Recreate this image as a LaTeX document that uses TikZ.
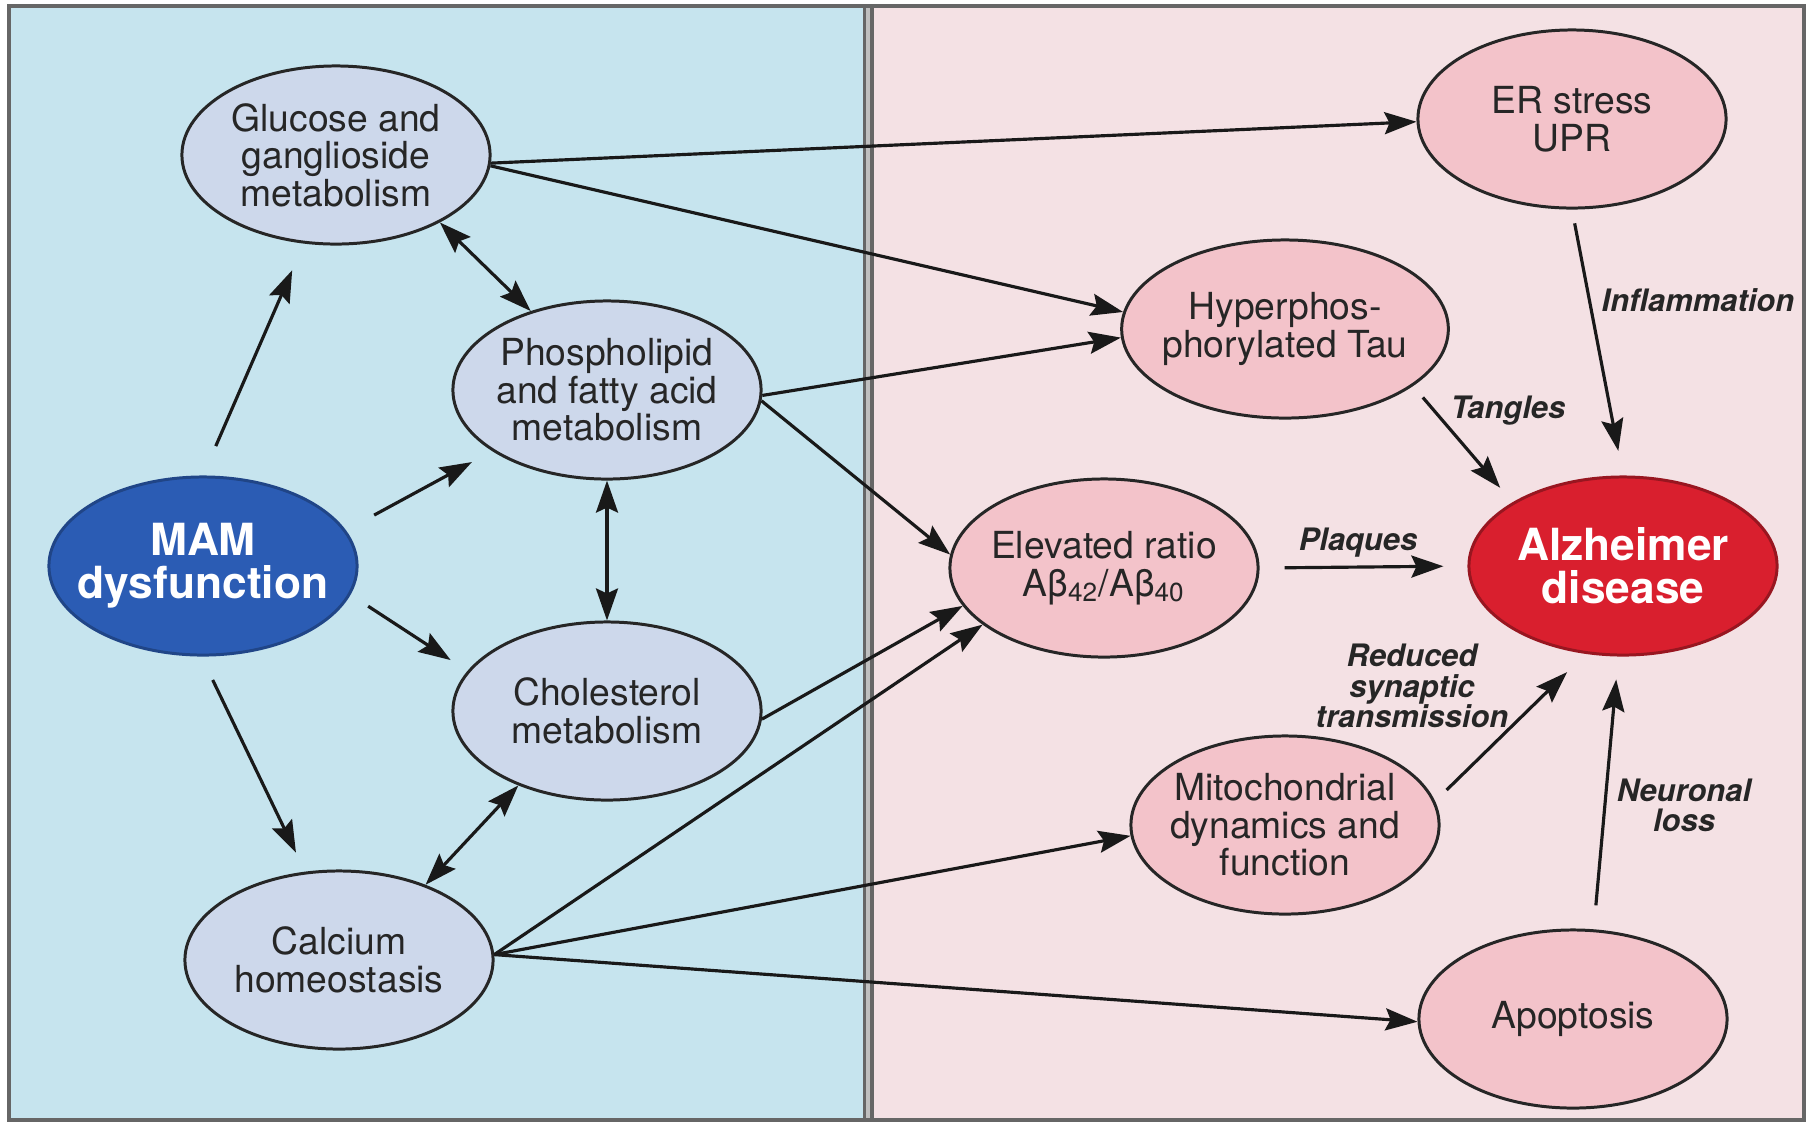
\documentclass[tikz,border=0pt]{standalone}
\usepackage{fontspec}
\setmainfont{TeX Gyre Heros}
\usepackage{tikz}
\usetikzlibrary{arrows.meta,shapes.geometric}
\definecolor{bluebg}{HTML}{C6E4EE}
\definecolor{pinkbg}{HTML}{F4E1E4}
\definecolor{bluenode}{HTML}{CDD8EB}
\definecolor{pinknode}{HTML}{F3C3CA}
\definecolor{mamblue}{HTML}{2B5CB4}
\definecolor{alzred}{HTML}{D91F2E}

\begin{document}
\begin{tikzpicture}[x=0.01cm, y=-0.01cm,
nd/.style = {ellipse, draw=black!85, line width=0.85pt, minimum width=3.08cm, minimum height=1.78cm, inner sep=-2pt, align=center, text=black!85, font=\fontsize{10.6}{10.7}\selectfont},
met/.style = {nd, fill=bluenode},
pth/.style = {nd, fill=pinknode},
key/.style = {text=white, inner xsep=-7pt, font=\bfseries\fontsize{12.6}{12.2}\selectfont},
lbl/.style = {align=center, text=black!85, font=\bfseries\itshape\fontsize{8.8}{8.6}\selectfont},
arr/.style = {draw=black!90, line width=0.9pt, -{Stealth[length=3.2mm,width=2.2mm,inset=0.5mm]}},
both/.style = {arr, {Stealth[length=3.2mm,width=2.2mm,inset=0.5mm]}-{Stealth[length=3.2mm,width=2.2mm,inset=0.5mm]}}
]
\useasboundingbox (0,0) rectangle (1818,1123);
% panels
\fill[bluebg] (9,6) rectangle (868,1120);
\fill[pinkbg] (868,6) rectangle (1804,1120);
\draw[line width=0.35mm, black!60, double=black!25, double distance=0.4mm] (868,6) -- (868,1120);
\draw[line width=1.2pt, black!60] (9,6) rectangle (1804,1120);

% left side
\node[nd, fill=mamblue, draw=mamblue!75!black, key] (mam) at (203,566) {MAM\\dysfunction};
\node[met] (glu) at (336,155) {Glucose and\\ganglioside\\metabolism};
\node[met] (pho) at (607,390) {Phospholipid\\and fatty acid\\metabolism};
\node[met] (cho) at (607,711) {Cholesterol\\metabolism};
\node[met] (cal) at (339,960) {Calcium\\homeostasis};

% right side
\node[pth] (er) at (1572,119) {ER stress\\UPR};
\node[pth] (hyp) at (1285,329) {Hyperphos-\\phorylated Tau};
\node[pth] (elv) at (1104,568) {Elevated ratio\\Aβ\textsubscript{42}/Aβ\textsubscript{40}};
\node[nd, fill=alzred, draw=alzred!70!black, key] (alz) at (1623,566) {Alzheimer\\disease};
\node[pth] (mit) at (1285,825) {Mitochondrial\\dynamics and\\function};
\node[pth] (apo) at (1573,1019) {Apoptosis};

% labels
\node[lbl] (infl) at (1698,300) {Inflammation};
\node[lbl] (tang) at (1508,411) {Tangles};
\node[lbl] (plaq) at (1358,543) {Plaques};
\node[lbl] (syn) at (1412,686) {Reduced\\synaptic\\transmission};
\node[lbl] (neur) at (1684,805) {Neuronal\\loss};

% arrows with a gap
\foreach \i/\j/\a/\b in {mam.90/glu.250/3.2mm/2.9mm, mam.14/pho.208/3.2mm/2.3mm, mam.349/cho.164/2.1mm/2mm, mam.269/cal.111/2.6mm/2.1mm,
  er.south/alz.north/1.4mm/2.5mm, hyp.336/alz.150/1.5mm/1.9mm, elv.east/alz.west/2.5mm/2.4mm, mit.9/alz.247/1.6mm/2.6mm, apo.77/alz.267/2.4mm/2.3mm}
  {\draw[arr, shorten <=\a, shorten >=\b] (\i) -- (\j);}

% arrows touching both nodes
\foreach \i/\j in {glu.357/er.181, glu.356/hyp.174, pho.358/hyp.183, pho.356/elv.175, cho.357/elv.195, cal.2/elv.205, cal.2/mit.184, cal.2/apo.181}
  {\draw[arr] (\i) -- (\j);}

% two-way arrows
\foreach \i/\j in {glu.327/pho.134, pho.south/cho.north, cho.220/cal.41}
  {\draw[both] (\i) -- (\j);}
\end{tikzpicture}
\end{document}
